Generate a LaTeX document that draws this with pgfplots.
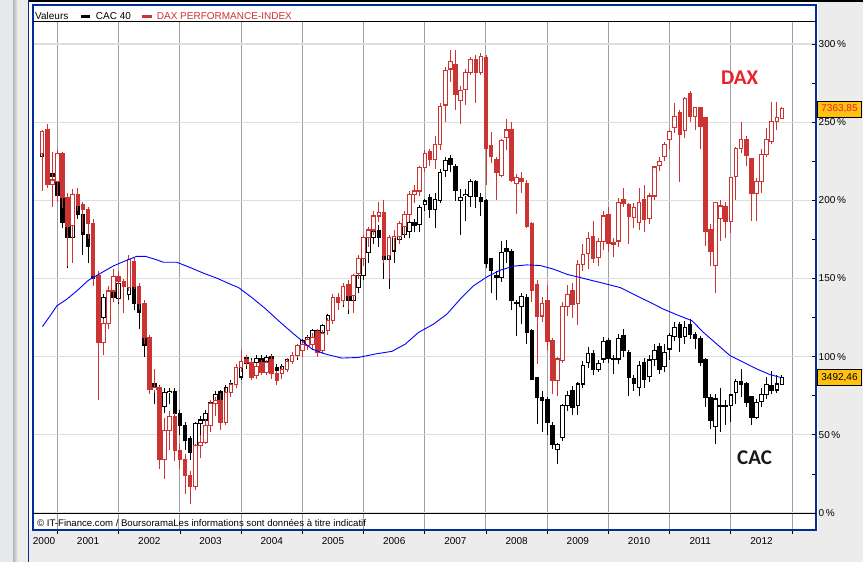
\documentclass[border=0pt]{standalone}
\usepackage{fontspec}
\setmainfont{Liberation Sans}
\newfontfamily\carlito{Carlito}
\usepackage{pgfplots}
\usepackage{pgfplotstable}
\pgfplotsset{compat=1.18}
\definecolor{daxred}{RGB}{204,51,51}
\definecolor{daxlabel}{RGB}{236,32,40}
\definecolor{frameblue}{RGB}{0,45,150}
\definecolor{bggray}{RGB}{236,236,236}
\definecolor{leftstrip}{RGB}{229,232,237}
\definecolor{gridv}{RGB}{160,160,160}
\definecolor{gridh}{RGB}{222,222,222}
\definecolor{boxorange}{RGB}{255,194,14}
\newcommand\tenpx{\fontsize{10}{12}\selectfont}

% CAC 40 monthly candles: n = month index (0 = Oct 2000), open high low close in %
\pgfplotstableread{
n o h l c
0 228 245 225 240
1 240 243 214 217
2 217 222 205 215
3 215 218 200 203
4 202 204 182 186
5 183 186 157 176
6 176 203 172 199.6
7 197.4 201 188 191
8 191 193 165 178.3
9 178.3 180 160 170.8
10 170.8 172 145 150.2
11 150 152 110 125
12 125 140 122 137.9
13 138 145 133 142
14 147 149 135 138
15 137 149 134 147
16 145 150 140 147
17 140 148 136 144
18 145 147 130 134
19 134 136 118 128
20 128 130 100 107
21 107 109 78 82.5
22 82.5 90 70 80
23 80 82 60 68
24 68 80 64 77
25 77 80 70 78
26 77.4 80 62 63.4
27 63.4 66 50 56
28 56 58 40 46.3
29 47.4 49 34 39
30 40 58 38 57
31 57 62 48 59.5
32 59.5 66 56 63.8
33 64 72 60 70.8
34 70.8 78 68 76
35 77.4 79 66 69.8
36 70 82 68 80.5
37 80.5 85 78 83
38 83 89 80 87
39 87 99 85 97
40 99.6 101 92 95.8
41 95.5 99 92 96.5
42 96 101 94 99
43 99 101 93 97
44 97 101 94 99.5
45 100 102 92 96
46 93.2 95 86 91
47 91 95 88 94
48 94 99 91 98
49 98.5 102 95 100.6
50 100.6 105 98 103.8
51 103.8 111 101 110.2
52 110.2 114 107 112
53 112 118 109 116.6
54 116.6 118 104 111.2
55 115.5 121 112 119.8
56 122.9 127 120 126.1
57 129.3 136 126 134.7
58 137.8 139 130 134.7
59 135.7 141 132 138.9
60 138.9 141 127 136.1
61 136.1 147 132 145.3
62 144.2 153 141 151.7
63 151.7 168 149 166.6
64 166.6 178 160 176.2
65 176.2 182 172 180.4
66 180.4 184 170 176.2
67 176.2 178 150 162.3
68 162.3 172 143 169.8
69 167.6 178 160 176.2
70 175 184 172 182.5
71 178 186 176 184.7
72 180 188 176 185.7
73 185.7 188 180 184
74 184.7 197 180 195.7
75 197.4 201 193 199.6
76 202 204 189 194.2
77 194 205 182.5 200.6
78 200 220 198 218
79 219 228 215 225.5
80 226.6 229 218 223
81 221.3 223 199.6 206.4
82 200 207 178 201.7
83 203 207 186.8 204
84 202.7 213.4 196 212
85 212 213 195 202.7
86 201.7 205 190 199.6
87 199.6 201 157 159.8
88 162.7 163 141 155.3
89 151.7 155 136 150.6
90 150.6 174 148 166.6
91 169 174.4 160 167
92 167 169 130 136.1
93 134.7 136 113.4 134.3
94 132 141 121 138.5
95 137.8 140 108 115.5
96 117 118 85 85.7
97 86.8 87 57 74
98 74 78 52 72
99 72.3 74 50 58
100 56 58 41 43.6
101 40.4 45 31.4 43.6
102 48.5 70 46 68.7
103 68.7 78.3 65 75
104 78.3 81 63 67.2
105 68.7 84 63 82.5
106 82.5 97.4 80 94.6
107 96.4 106 93 102
108 102 104 88 92
109 92 98 90 95.7
110 98.5 112.3 96 109.8
111 110.6 112 96 99
112 99 101 89 98.5
113 98.5 114.4 95 111.7
114 113.4 117.6 100 103.8
115 102.5 104 75 86.8
116 85.7 88 78 83
117 80.4 97 75 94.2
118 96.4 99 80 85.7
119 87.2 101 84 97.9
120 97.9 108 94 104.2
121 106.4 109 89 92.1
122 93.6 108 90 102.7
123 104.9 115 98 113.4
124 112.7 121.9 110 118.7
125 120.4 122 103 112.3
126 112.7 123 108 118.7
127 120.8 124 111 114
128 114 116 105 111.9
129 111.9 113 94 96.4
130 97.9 99 68 73.6
131 74 76 53.8 59.1
132 55.3 76 44.2 72.9
133 68.3 80 52 68.9
134 68.9 72 56 68.5
135 68.5 76 58 75.5
136 76.8 86 70 84
137 84 92 74 82.5
138 82.9 84 68 70.8
139 74.4 75 56 60.8
140 61.3 73 60 70.4
141 71.5 80 68 75.7
142 75.7 87 73 82.1
143 81.7 91 76 78.7
144 78.7 88 77 82.5
145 82.1 88 82 86.4
}\cac

% DAX Performance-Index monthly candles (same layout)
\pgfplotstableread{
n o h l c
0 230 245 206 244
1 245 249 208 210
2 210 231 196 213
3 212 232 199 230
4 230 231 195 202
5 202 205 158 183
6 184 207 160 204
7 204 208 193 197
8 197 199 180 194
9 194 196 175 185
10 185 188 145 152
11 152 155 72 109
12 109 124 101 121
13 121 145 118 142
14 142 156 135 151
15 151 155 135 148
16 148 150 128 145
17 144 165 142 162
18 161 163 143 145
19 145 147 130 134
20 134 136 108 112
21 112 114 76 79
22 79 92 77 80
23 80 81 28 34
24 34 61 22 53
25 53 65 40 62
26 62 64 33 40
27 40 44 28 34
28 34 38 12 24
29 24 27 6 17
30 17 44 15 43
31 43 50 35 45
32 45 60 44 56
33 56 72 52 70
34 70 74 62 72
35 72 77 53 58
36 58 80 56 77
37 77 84 74 82
38 82 95 80 93
39 93 104 90 97
40 98 101 94 96
41 96 98 85 87
42 88 96 86 94
43 96 98 88 90
44 90 98 88 96
45 98 101 86 89
46 89 91 82 85
47 89 94 86 92
48 92 99 90 97
49 97 103 95 101
50 101 108 99 107
51 104 110 100 108
52 107 113 104 111
53 108 115 104 112
54 116 118 100 103
55 104 117 102 115
56 117 125 114 123
57 123 140 121 138
58 138 141 130 135
59 136 147 133 145
60 146 149 130 139
61 139 153 128 152
62 153 165 150 163
63 163 178 158 176
64 176 183 170 181
65 181 193 178 190
66 190 199 186 192
67 192 200 160 165
68 165 178 150 176
69 176 181 168 177
70 177 187 172 185
71 183 193 178 191
72 191 206 187 204
73 204 210 198 206
74 206 222 203 221
75 221 232 218 230
76 231.5 233 222 226
77 226 241 220 236
78 236 262 232 260
79 261 285 250 283
80 284 296 276 289
81 287 296 258 268
82 264 273 249 270
83 271 284 261 282
84 282 292 280 290
85 290 293 262 282
86 282 294 280 292
87 291.5 293 210 233
88 235 244 224 228
89 226 228 200 218
90 216 239 215 238
91 240 252 232 245
92 245 250 212 212.5
93 211 217 191.5 214.5
94 214 218 205 212
95 211 213 182 183
96 185 186 135 142.5
97 146 149 95 126
98 126 138 122 134
99 136 146 104 110
100 110 112 76 85
101 85 100 75 98.5
102 97.4 135 96 132
103 132 146 126 140
104 142.5 147 125 133.6
105 134 162 120 159
106 159 172 155 165.5
107 166 180 156 175.7
108 176.6 187 160 163
109 163.4 176 158 173.6
110 173.6 193 168 190
111 190.6 196 167 172.3
112 173 176 164 172
113 174 201.7 170 198.5
114 200.6 208 196 198
115 197.4 198 172 189.4
116 189 198 182 195.3
117 186 208 181 198.5
118 200.6 210 180 188
119 188.5 205 185 202.8
120 202.8 222 200 221.3
121 222.3 228 219 225.1
122 228 237 225 235.7
123 238.9 245 233 244.3
124 246.4 262 243 253.8
125 256 258 212 242.1
126 244.7 266 240 265.1
127 268.1 270 250 253.8
128 253.8 260 245 259.2
129 259.2 260 233 247.4
130 252.8 253 171 180.4
131 181.5 185 158 167.2
132 158.1 199 141 198.5
133 188.5 200 174 196.4
134 196 199 176 186.4
135 186.4 215 179 214.5
136 215.1 234 200 233.2
137 233.2 250 230 238.9
138 238.9 241 222 228.7
139 226.6 227 187 204.5
140 204.5 214 187 211.9
141 211.9 233 205 229.4
142 229.4 246 228 238.9
143 237.9 263 236 250.6
144 250.6 263 245 252.8
145 252.3 260 252 258.5
}\dax

% blue curve (year, %)
\pgfplotstableread{
t v
2000.755 119.3
2000.881 126.2
2000.990 132.5
2001.154 136.8
2001.317 142.1
2001.506 148.9
2001.697 153.2
2001.915 158.1
2002.134 161.7
2002.297 164.2
2002.433 164.2
2002.624 161.9
2002.731 160.4
2002.950 160.4
2003.168 157.0
2003.385 153.4
2003.604 150.2
2003.821 146.4
2003.957 144.2
2004.175 137.8
2004.393 130.8
2004.610 123.0
2004.829 115.5
2004.992 110.2
2005.156 104.9
2005.373 101.7
2005.646 99.1
2005.917 99.5
2006.190 101.7
2006.462 103.4
2006.680 108.0
2006.897 115.5
2007.142 120.8
2007.361 127.2
2007.578 136.8
2007.795 145.3
2008.014 151.0
2008.231 155.3
2008.449 157.9
2008.667 158.7
2008.885 158.3
2009.102 156.0
2009.321 152.7
2009.538 150.6
2009.755 148.5
2009.974 146.4
2010.191 144.2
2010.464 138.9
2010.681 134.7
2010.899 130.4
2011.118 126.8
2011.363 123.0
2011.552 115.5
2011.771 108.0
2011.988 100.6
2012.206 96.4
2012.424 92.1
2012.642 88.5
2012.805 86.8
}\ratio

\begin{document}
\begin{tikzpicture}
\begin{scope}[x=1pt,y=1pt]
\useasboundingbox (0,0) rectangle (863,562);
\fill[bggray] (0,0) rectangle (863,562);
\fill[leftstrip] (0,0) rectangle (13,562);
\shade[left color=black!30, right color=bggray] (13,0) rectangle (17.5,562);
\fill[white] (29,32) rectangle (817.5,560);
\fill[black] (29,560) rectangle (863,562);
\draw[frameblue, line width=1pt] (28.5,0) -- (28.5,562);
\end{scope}

\begin{axis}[
  at={(33pt,32pt)}, anchor=south west,
  scale only axis, width=783pt, height=525pt,
  xmin=2000.600, xmax=2013.390, ymin=-10.87, ymax=324.95,
  axis background/.style={fill=white},
  axis line style={draw=frameblue, line width=1.6pt},
  xtick={2001,2002,...,2013},
  xticklabels={},
  xtick pos=bottom, ytick pos=right,
  xmajorgrids, ymajorgrids,
  x grid style={draw=gridv, line width=1pt},
  y grid style={draw=gridh, line width=1.2pt},
  ytick={0,50,...,300},
  minor ytick={25,75,...,275},
  major tick length=4pt, minor tick length=4pt,
  tick style={draw=black, line width=0.8pt},
  xtick style={yshift=-4pt},
  yticklabel={\pgfmathprintnumber[assume math mode=true]{\tick}\,\%},
  yticklabel style={font=\tenpx, anchor=west, inner sep=0pt, xshift=2.5pt},
  extra x ticks={2000.78,2001.5,2002.5,2003.5,2004.5,2005.5,2006.5,2007.5,2008.5,2009.5,2010.5,2011.5,2012.5},
  extra x tick labels={2000,2001,2002,2003,2004,2005,2006,2007,2008,2009,2010,2011,2012},
  extra x tick style={grid=none, major tick length=0pt,
     xticklabel style={font=\tenpx, anchor=base, yshift=-15pt}},
]
\draw[black, line width=1pt] (axis cs:2000.6,0) -- (axis cs:2013.39,0);

% ---- CAC 40 (black)
\addplot[draw=none, mark=none, forget plot,
  error bars/.cd, y dir=both, y explicit, error mark=none,
  error bar style={draw=black, line width=1pt}]
  table[x expr=2000.75+\thisrow{n}/12, y expr=(\thisrow{h}+\thisrow{l})/2,
        y error expr=(\thisrow{h}-\thisrow{l})/2] {\cac};
\addplot[draw=none, mark=none, forget plot,
  error bars/.cd, y dir=both, y explicit, error mark=none,
  error bar style={draw=black, line width=4.6pt}]
  table[x expr=2000.75+\thisrow{n}/12, y expr=(\thisrow{o}+\thisrow{c})/2,
        y error expr=abs(\thisrow{c}-\thisrow{o})/2+0.35] {\cac};
\addplot[draw=none, mark=none, forget plot,
  restrict expr to domain={\thisrow{c}-\thisrow{o}}{1.0:1000},
  error bars/.cd, y dir=both, y explicit, error mark=none,
  error bar style={draw=white, line width=2.6pt}]
  table[x expr=2000.75+\thisrow{n}/12, y expr=(\thisrow{o}+\thisrow{c})/2,
        y error expr=(\thisrow{c}-\thisrow{o})/2-0.35] {\cac};

% ---- DAX (red)
\addplot[draw=none, mark=none, forget plot,
  error bars/.cd, y dir=both, y explicit, error mark=none,
  error bar style={draw=daxred, line width=1pt}]
  table[x expr=2000.75+\thisrow{n}/12, y expr=(\thisrow{h}+\thisrow{l})/2,
        y error expr=(\thisrow{h}-\thisrow{l})/2] {\dax};
\addplot[draw=none, mark=none, forget plot,
  error bars/.cd, y dir=both, y explicit, error mark=none,
  error bar style={draw=daxred, line width=4.6pt}]
  table[x expr=2000.75+\thisrow{n}/12, y expr=(\thisrow{o}+\thisrow{c})/2,
        y error expr=abs(\thisrow{c}-\thisrow{o})/2+0.35] {\dax};
\addplot[draw=none, mark=none, forget plot,
  restrict expr to domain={\thisrow{c}-\thisrow{o}}{1.0:1000},
  error bars/.cd, y dir=both, y explicit, error mark=none,
  error bar style={draw=white, line width=2.6pt}]
  table[x expr=2000.75+\thisrow{n}/12, y expr=(\thisrow{o}+\thisrow{c})/2,
        y error expr=(\thisrow{c}-\thisrow{o})/2-0.35] {\dax};

% ---- blue curve
\addplot[color=blue, line width=0.9pt, mark=none] table[x=t, y=v] {\ratio};
\end{axis}

\begin{scope}[x=1pt,y=1pt]
% legend strip
\fill[white] (34,541) rectangle (815.2,556.2);
\draw[black, line width=1pt] (33,540.5) -- (816,540.5);
\node[anchor=base west, inner sep=0pt, font=\tenpx] at (35,542) {Valeurs};
\fill[black] (80.7,543.7) rectangle (90,547);
\node[anchor=base west, inner sep=0pt, font=\tenpx] at (95.7,542) {CAC 40};
\fill[daxred] (141.7,543.7) rectangle (151.7,547);
\node[anchor=base west, inner sep=0pt, font=\tenpx, text=daxred] at (156.7,542) {DAX PERFORMANCE-INDEX};
% copyright
\node[anchor=base west, inner sep=0pt, font=\fontsize{9.6}{11}\selectfont] at (37,35) {© IT-Finance.com / BoursoramaLes informations sont données à titre indicatif};
% series labels
\node[anchor=base west, inner sep=0pt, text=daxlabel, font=\fontsize{21}{24}\carlito\bfseries] at (721,477) {DAX};
\node[anchor=base west, inner sep=0pt, text=black!90, font=\fontsize{21}{24}\carlito\bfseries] at (737,97) {CAC};
% last value boxes
\node[fill=boxorange, draw=black, line width=0.8pt, minimum width=44pt, minimum height=16pt, inner sep=0pt, font=\tenpx, text=daxlabel] at (839.5,453) {7363,85};
\node[fill=boxorange, draw=black, line width=0.8pt, minimum width=44pt, minimum height=16pt, inner sep=0pt, font=\tenpx] at (839.5,184.5) {3492,46};
\end{scope}
\end{tikzpicture}
\end{document}
